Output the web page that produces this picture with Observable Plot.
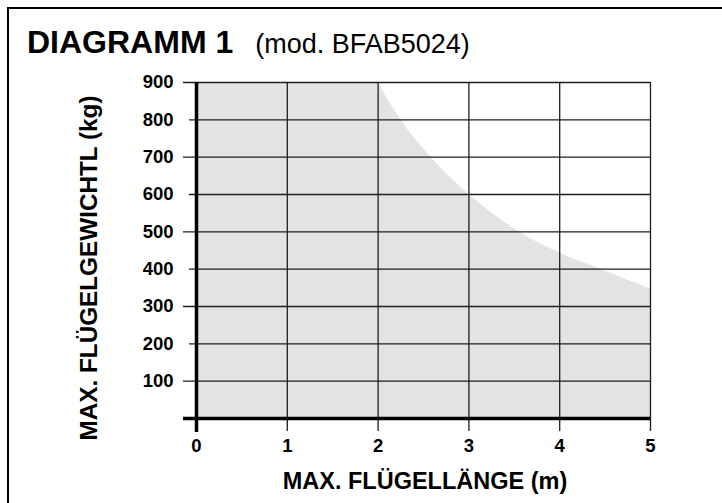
<!DOCTYPE html>
<html>
<head>
<meta charset="utf-8">
<script src="https://cdn.jsdelivr.net/npm/d3@7"></script>
<script src="https://cdn.jsdelivr.net/npm/@observablehq/plot@0.6"></script>
<style>
  html, body { margin: 0; padding: 0; background: #fff; }
  #wrap { position: relative; width: 722px; height: 503px; overflow: hidden; font-family: "Liberation Sans", Arial, Helvetica, sans-serif; color: #000; }
  #frame { position: absolute; left: 7px; top: 7px; width: 800px; height: 600px; border-left: 2.5px solid #000; border-top: 2.5px solid #000; box-sizing: border-box; }
  #title { position: absolute; left: 27px; top: 26px; line-height: 1; white-space: nowrap; }
  #title .b { font-weight: bold; font-size: 32px; }
  #title .r { font-weight: normal; font-size: 27px; margin-left: 22px; }
  #ylab { position: absolute; left: 89px; top: 268px; transform: translate(-50%, -50%) rotate(-90deg); font-weight: bold; font-size: 24.3px; white-space: nowrap; line-height: 1; }
  #xlab { position: absolute; left: 425px; top: 470px; transform: translateX(-50%); font-weight: bold; font-size: 23.5px; white-space: nowrap; line-height: 1; }
  #chart { position: absolute; left: 0; top: 0; }
</style>
</head>
<body>
<div id="wrap">
  <div id="chart"></div>
  <div id="frame"></div>
  <div id="title"><span class="b">DIAGRAMM 1</span><span class="r">(mod. BFAB5024)</span></div>
  <div id="ylab">MAX. FLÜGELGEWICHTL (kg)</div>
  <div id="xlab">MAX. FLÜGELLÄNGE (m)</div>
</div>
<script>
// Max. leaf length (m) vs. max. leaf weight (kg) — boundary of permitted area
const lengthM  = [0, 2, 2.25, 2.58, 3, 3.55, 4, 4.45, 5];
const weightKg = [900, 900, 800, 700, 600, 500, 443, 400, 347];

const xTicks = [0, 1, 2, 3, 4, 5];
const yTicks = [100, 200, 300, 400, 500, 600, 700, 800, 900];
const yTicksLong = [100, 300, 500, 700, 900];
const yTicksShort = [200, 400, 600, 800];

const pts = lengthM.map((x, i) => ({x, y: weightKg[i]}));
const flatPart = pts.slice(0, 2);
const curvePart = pts.slice(1);

const gridColor = "#1e1e1e";
const font = "'Liberation Sans', Arial, Helvetica, sans-serif";

const chart = Plot.plot({
  width: 722,
  height: 503,
  marginLeft: 196,
  marginRight: 72,
  marginTop: 82,
  marginBottom: 85,
  x: {domain: [0, 5], axis: null},
  y: {domain: [0, 900], axis: null},
  style: {fontFamily: font, color: "#000", background: "transparent"},
  marks: [
    Plot.areaY(flatPart, {x: "x", y: "y", fill: "#e3e3e3", curve: "linear"}),
    Plot.areaY(curvePart, {x: "x", y: "y", fill: "#e3e3e3", curve: "monotone-x"}),
    // horizontal grid lines with ticks extending left
    Plot.ruleY(yTicksLong, {x1: 0, x2: 5, stroke: gridColor, strokeWidth: 1.3, insetLeft: -13}),
    Plot.ruleY(yTicksShort, {x1: 0, x2: 5, stroke: gridColor, strokeWidth: 1.3, insetLeft: -7}),
    // vertical grid lines with ticks extending down
    Plot.ruleX(xTicks.filter(d => d > 0), {y1: 900, y2: 0, stroke: gridColor, strokeWidth: 1.3, insetBottom: -13}),
    // main axes (thick)
    Plot.ruleX([0], {y1: 900, y2: 0, stroke: "#000", strokeWidth: 3.5, insetBottom: -14}),
    Plot.ruleY([0], {x1: 0, x2: 5, stroke: "#000", strokeWidth: 3.5, insetLeft: -13}),
    // tick labels
    Plot.text(yTicks, {x: 0, y: d => d, text: d => String(d), dx: -23, textAnchor: "end", fontSize: 18.5, fontWeight: "bold", fill: "#000"}),
    Plot.text(xTicks, {x: d => d, y: 0, text: d => String(d), dy: 28, fontSize: 18.5, fontWeight: "bold", fill: "#000"})
  ]
});
document.getElementById("chart").appendChild(chart);
</script>
</body>
</html>
